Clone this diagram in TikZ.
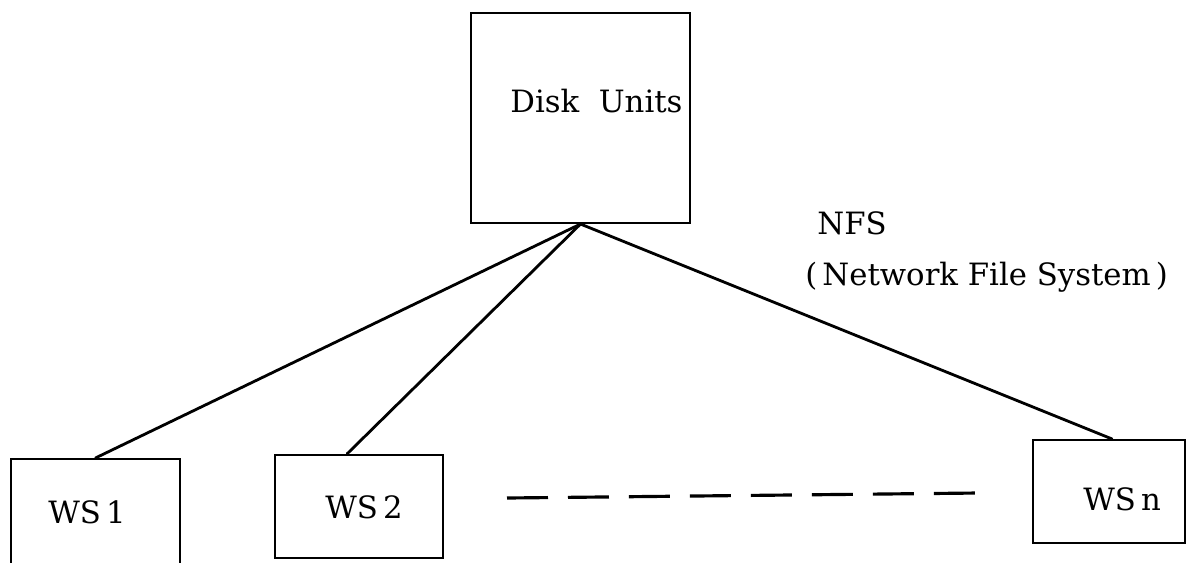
\documentclass[tikz,border=0pt]{standalone}
\usepackage{fontspec}
\setmainfont{DejaVu Serif}
\usetikzlibrary{calc}

\tikzset{unit/.style = {shape = rectangle,
                        color = black,
                        line width = 1.2pt,
                        inner sep = 0pt,
                        draw},
         caption/.style = {inner sep = 0pt,
                           anchor = base west,
                           font = \fontsize{17.5}{21}\selectfont},
         link/.style = {line width = 1.6pt,
                        line cap = round},
         gap/.style = {line width = 1.8pt,
                       dash pattern = on 0.82cm off 0.40cm}}

\begin{document}
\begin{tikzpicture}[x = 0.02cm, y = -0.02cm]
		\clip (0,0) rectangle (1196,562);
		% server box and the workstations
		\node[unit, minimum width = 4.38cm, minimum height = 4.2cm] (disk) at (580.5,118) {};
		\node[unit, minimum width = 3.38cm, minimum height = 2.4cm] (ws1) at (95.5,519) {};
		\node[unit, minimum width = 3.36cm, minimum height = 2.06cm] (ws2) at (359,506.5) {};
		\node[unit, minimum width = 3.04cm, minimum height = 2.06cm] (wsn) at (1109,491.5) {};
		% texts
		\node[caption] (disktext) at (510,112) {Disk\ \ Units};
		\node[caption] (ws1text) at (48,523) {WS\,1};
		\node[caption] (ws2text) at (325,518) {WS\,2};
		\node[caption] (wsntext) at (1083,510) {WS\,n};
		\node[caption] (nfs) at (817,234) {NFS};
		\node[caption] (nfsfull) at (805,285) {(\,Network File System\,)};
		% links to the disks
		\draw[link] (disk.south) -- (ws1.north);
		\draw[link] (disk.south) -- ([xshift = -0.24cm]ws2.north);
		\draw[link] (disk.south) -- ([xshift = 0.06cm]wsn.north);
		% the workstations in between
		\coordinate (dashstart) at (507,498);
		\coordinate (dashend) at (978,493);
		\draw[gap] (dashstart) -- (dashend);
	\end{tikzpicture}
\end{document}
